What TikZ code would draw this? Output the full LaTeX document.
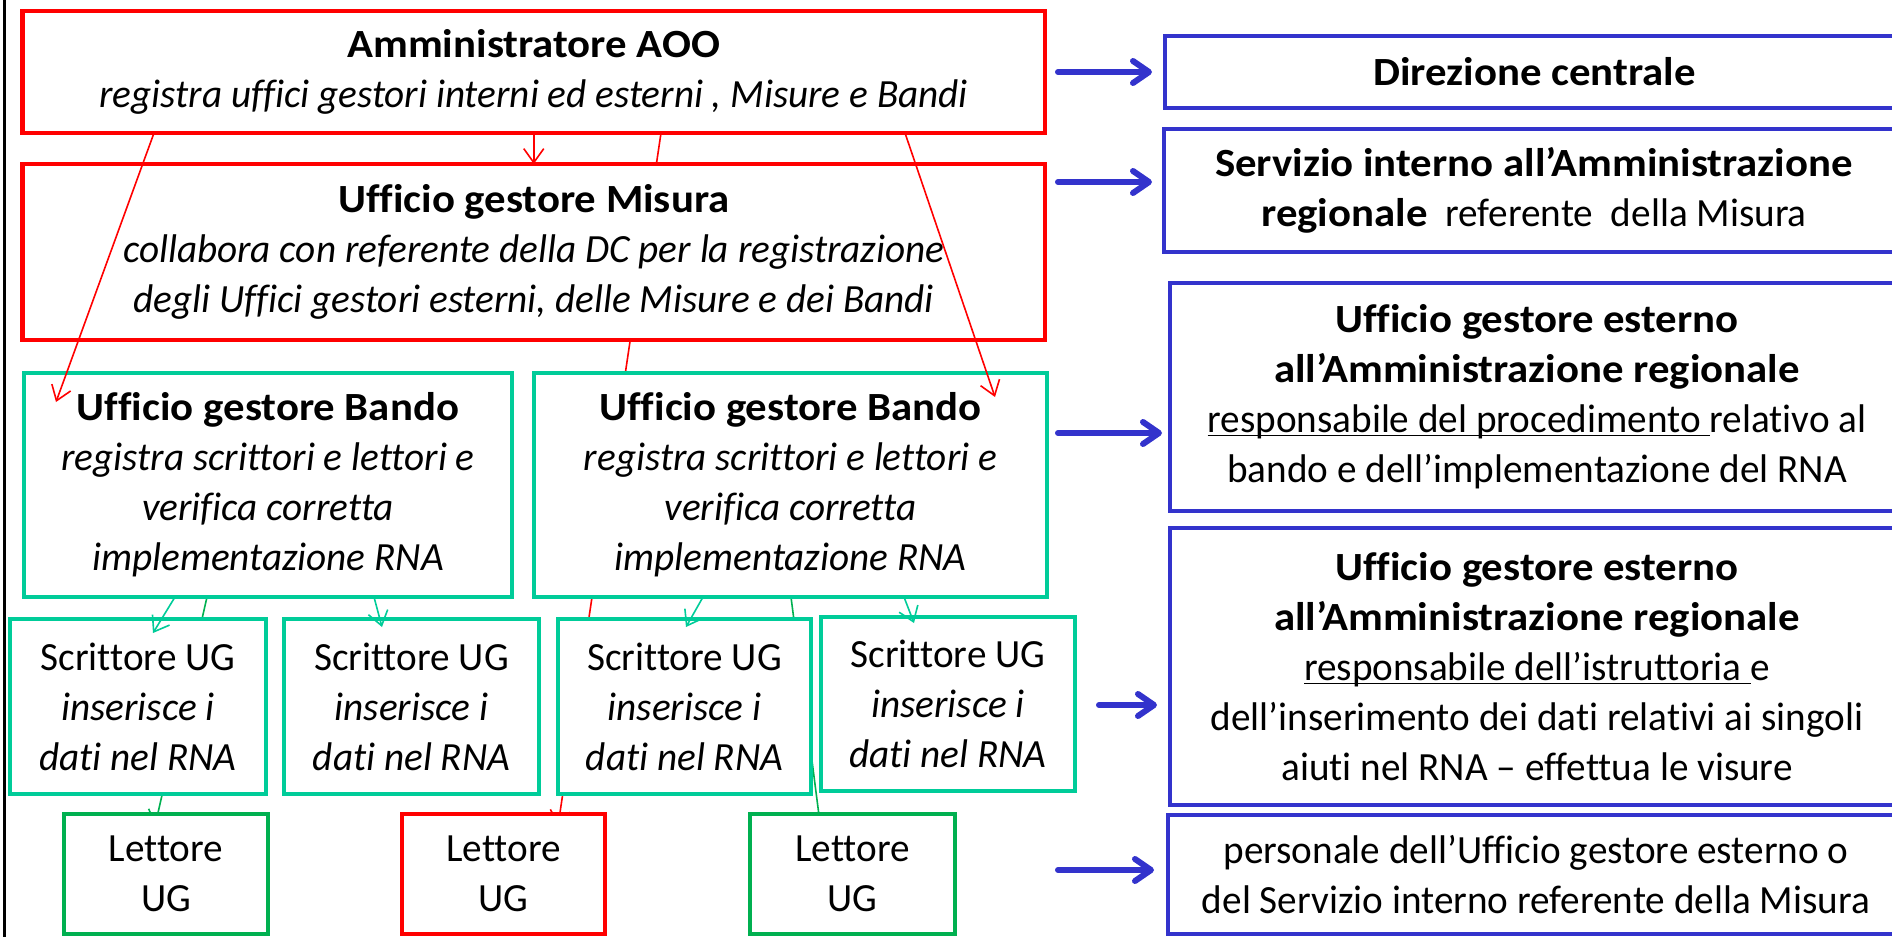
\documentclass[tikz,border=0pt]{standalone}
\usepackage{fontspec}
\setmainfont[Ligatures=NoCommon,
  UprightFeatures={FakeStretch=0.98},
  ItalicFeatures={FakeStretch=0.98},
  BoldFeatures={FakeStretch=1.07}]{Carlito}
\usetikzlibrary{arrows.meta,backgrounds}

\definecolor{boxred}{RGB}{255,0,0}
\definecolor{boxteal}{RGB}{0,204,153}
\definecolor{boxgreen}{RGB}{0,176,80}
\definecolor{boxblue}{RGB}{51,51,204}

\newcommand{\resp}[1]{\underline{\smash{#1}}}

\tikzset{
  orgbox/.style={draw, line width=2.3pt, fill=white, align=center, inner sep=0pt, outer sep=0pt,
    font=\fontsize{20}{25}\selectfont},
  redbox/.style={orgbox, draw=boxred},
  tealbox/.style={orgbox, draw=boxteal},
  greenbox/.style={orgbox, draw=boxgreen},
  bluebox/.style={orgbox, draw=boxblue},
  redline/.style={draw=boxred, line width=0.8pt, -{Straight Barb[length=7pt,width=10pt]}},
  tealline/.style={draw=boxteal, line width=0.8pt, -{Straight Barb[length=7pt,width=10pt]}},
  greenline/.style={draw=boxgreen, line width=0.8pt, -{Straight Barb[length=7pt,width=10pt]}},
  bluearrow/.style={draw=boxblue, line width=3pt, line cap=round, -{Straight Barb[length=8pt,width=11pt,round]}}
}

\begin{document}
\begin{tikzpicture}[x=0.5pt,y=-0.5pt]
\useasboundingbox (0,0) rectangle (1892,937);
\clip (0,0) rectangle (1892,937);

\draw[line width=1.2pt] (4.5,0) -- (4.5,937);

% left part
\node[redbox, minimum width=511.25pt, minimum height=61pt] (aoo) at (533.75,72)
  {\textbf{Amministratore AOO}\\\textit{registra uffici gestori interni ed esterni , Misure e Bandi}};
\node[redbox, minimum width=511.25pt, minimum height=88pt] (misura) at (533.75,252)
  {\textbf{Ufficio gestore Misura}\\\textit{collabora con referente della DC per la registrazione}\\\textit{degli Uffici gestori esterni, delle Misure e dei Bandi}};
\node[tealbox, minimum width=244pt, minimum height=112pt] (bando1) at (268,485)
  {\textbf{Ufficio gestore Bando}\\\textit{registra scrittori e lettori e}\\\textit{verifica corretta}\\\textit{implementazione RNA}};
\node[tealbox, minimum width=256.5pt, minimum height=112pt] (bando2) at (790.5,485)
  {\textbf{Ufficio gestore Bando}\\\textit{registra scrittori e lettori e}\\\textit{verifica corretta}\\\textit{implementazione RNA}};

\node[tealbox, minimum width=128pt, minimum height=87.5pt] (scr1) at (138,706.5)
  {Scrittore UG\\\textit{inserisce i}\\\textit{dati nel RNA}};
\node[tealbox, minimum width=127.5pt, minimum height=87.5pt] (scr2) at (411.5,706.5)
  {Scrittore UG\\\textit{inserisce i}\\\textit{dati nel RNA}};
\node[tealbox, minimum width=126.5pt, minimum height=87.5pt] (scr3) at (684.5,706.5)
  {Scrittore UG\\\textit{inserisce i}\\\textit{dati nel RNA}};
\node[tealbox, minimum width=127pt, minimum height=87pt] (scr4) at (948,704)
  {Scrittore UG\\\textit{inserisce i}\\\textit{dati nel RNA}};

\node[greenbox, minimum width=102pt, minimum height=60pt] (let1) at (166,874) {Lettore\\UG};
\node[redbox, minimum width=101.5pt, minimum height=60pt] (let2) at (503.5,874) {Lettore\\UG};
\node[greenbox, minimum width=102.5pt, minimum height=60pt] (let3) at (852.5,874) {Lettore\\UG};

% right part
\node[bluebox, minimum width=369.5pt, minimum height=36pt] (dir) at (1534.5,72)
  {\textbf{Direzione centrale}};
\node[bluebox, minimum width=370pt, minimum height=61.5pt] (serv) at (1534,190.5)
  {\textbf{Servizio interno all’Amministrazione}\\\textbf{regionale}~ referente~ della Misura};
\node[bluebox, minimum width=367pt, minimum height=114pt] (ester1) at (1537,397)
  {\textbf{Ufficio gestore esterno}\\\textbf{all’Amministrazione regionale}\\\resp{responsabile del procedimento }relativo al\\bando e dell’implementazione del RNA};
\node[bluebox, minimum width=367pt, minimum height=138.5pt] (ester2) at (1537,666.5)
  {\textbf{Ufficio gestore esterno}\\\textbf{all’Amministrazione regionale}\\\resp{responsabile dell’istruttoria }e\\dell’inserimento dei dati relativi ai singoli\\aiuti nel RNA – effettua le visure};
\node[bluebox, minimum width=368pt, minimum height=59.5pt] (pers) at (1536,874.5)
  {personale dell’Ufficio gestore esterno o\\del Servizio interno referente della Misura};

% lines hidden behind the boxes
\begin{scope}[on background layer]
\draw[redline] ([shift={(638.5,0)}]aoo.south west) -- ([shift={(156,12)}]let2.north west);
\draw[greenline] ([shift={(183,0)}]bando1.south west) -- ([shift={(91,12)}]let1.north west);
\draw[greenline] ([shift={(257,0)}]bando2.south west) -- ([shift={(71,17)}]let3.north west);
\end{scope}

\draw[redline] ([shift={(131.5,0)}]aoo.south west) -- ([shift={(32,29)}]bando1.north west);
\draw[redline] (aoo.south) -- (misura.north);
\draw[redline] ([shift={(882.5,0)}]aoo.south west) -- ([shift={(461,24)}]bando2.north west);

\draw[tealline] ([shift={(151,0)}]bando1.south west) -- ([shift={(143,14)}]scr1.north west);
\draw[tealline] ([shift={(350,0)}]bando1.south west) -- ([shift={(98,8)}]scr2.north west);
\draw[tealline] ([shift={(169,0)}]bando2.south west) -- ([shift={(128,8)}]scr3.north west);
\draw[tealline] ([shift={(370,0)}]bando2.south west) -- ([shift={(93,6)}]scr4.north west);

\draw[bluearrow] ([shift={(13,0)}]aoo.east) -- ([shift={(-13,0)}]dir.west);
\draw[bluearrow] ([shift={(13,-70)}]misura.east) -- ([shift={(-12,-8.5)}]serv.west);
\draw[bluearrow] ([shift={(11,-52)}]bando2.east) -- ([shift={(-8,36)}]ester1.west);
\draw[bluearrow] ([shift={(24,1)}]scr4.east) -- ([shift={(-13,38.5)}]ester2.west);
\draw[bluearrow] ([shift={(103,-4)}]let3.east) -- ([shift={(-14,-4.5)}]pers.west);

\end{tikzpicture}
\end{document}
